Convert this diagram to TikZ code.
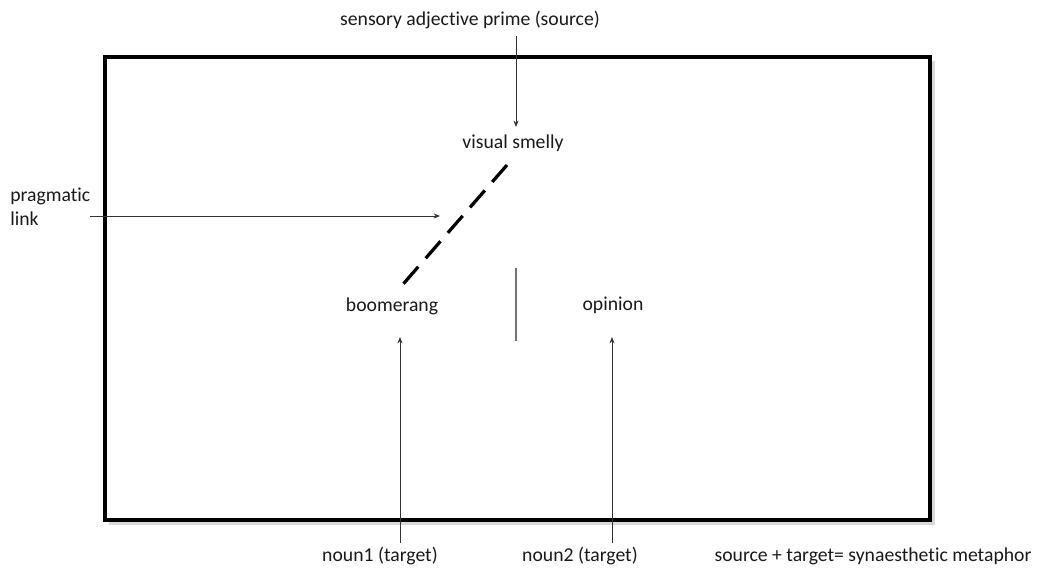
\documentclass[tikz,border=0pt]{standalone}
\usepackage{fontspec}
\setmainfont{Carlito}[Ligatures=NoCommon]
\usetikzlibrary{arrows.meta}

\begin{document}
\begin{tikzpicture}[x=0.025cm, y=-0.025cm,
  word/.style = {font=\fontsize{14}{17}\selectfont, text=black!90, inner sep=0pt},
  ptr/.style = {draw=black!80, line width=0.6pt, -{Stealth[length=4.5pt,width=3.5pt]}}]
\useasboundingbox (0,0) rectangle (1040,569);

% frame with its shadow
\fill[black!15] (109,61) rectangle (935,525);
\draw[line width=3pt, fill=white] (105,57) rectangle (930,520);

\node[word] (src) at (470,20) {sensory adjective prime (source)};
\node[word] (adj) at (513,143) {visual smelly};
\node[word, align=left, anchor=west] (prag) at (10,207) {pragmatic\\link};
\node[word] (boom) at (392,306) {boomerang};
\node[word] (opin) at (613,305) {opinion};
\node[word] (n1) at (380,556) {noun1 (target)};
\node[word] (n2) at (580,556) {noun2 (target)};
\node[word] (sum) at (873,556) {source + target= synaesthetic metaphor};

\coordinate (adjin) at (516,127);
\coordinate (pragin) at (440,216);
\coordinate (boomin) at (400,337);
\coordinate (opinin) at (612,337);

\draw[ptr, shorten <=5pt] (adjin |- src.south) -- (adjin);
\draw[ptr] (prag.east |- pragin) -- (pragin);
\draw[ptr, shorten <=3pt] (boomin |- n1.north) -- (boomin);
\draw[ptr, shorten <=3pt] (opinin |- n2.north) -- (opinin);

% link and split
\draw[line width=2.3pt, dash pattern=on 16pt off 8pt] (507,165) -- (398,290);
\draw[black!55, line width=0.8pt] (516,268) -- (516,341);
\end{tikzpicture}
\end{document}
